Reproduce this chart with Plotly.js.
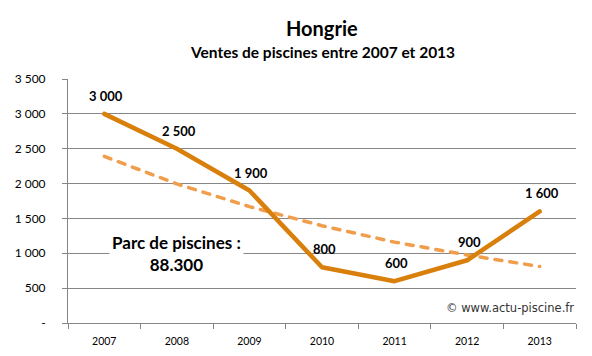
<!DOCTYPE html>
<html><head><meta charset="utf-8">
<script src="https://cdn.plot.ly/plotly-3.0.1.min.js"></script>
<style>html,body{margin:0;padding:0;background:#fff}
.scatterlayer path.js-line{stroke-linecap:round;stroke-linejoin:round}</style>
</head><body>
<div id="chart" style="width:592px;height:356px"></div>
<script>
const years = ['2007','2008','2009','2010','2011','2012','2013'];
const ventes = [3000, 2500, 1900, 800, 600, 900, 1600];
const ventesLabels = ['3 000','2 500','1 900','800','600','900','1 600'];
const tendance = [2390, 1995, 1670, 1395, 1160, 975, 810];
const yTickVals = [0, 500, 1000, 1500, 2000, 2500, 3000, 3500];
const yTickText = ['-', '500', '1 000', '1 500', '2 000', '2 500', '3 000', '3 500'];

const F = 'Lato, "Liberation Sans", sans-serif';
const data = [
  {x: years, y: tendance, type: 'scatter', mode: 'lines',
   line: {color: '#F19E4C', width: 3.5, dash: '7px,8px'}, hoverinfo: 'skip'},
  {x: years, y: ventes, type: 'scatter', mode: 'lines',
   line: {color: '#D87F0C', width: 4.5}}
];
const labelAnns = years.map((yr, i) => ({
  x: i, y: ventes[i], xref: 'x', yref: 'y', text: '<b>' + ventesLabels[i] + '</b>',
  showarrow: false, xanchor: 'center', yanchor: 'middle', xshift: 2, yshift: 18,
  font: {family: F, size: 13, color: '#000'}
}));
const layout = {
  width: 592, height: 356,
  margin: {l: 68, r: 16, t: 79, b: 33},
  paper_bgcolor: '#fff', plot_bgcolor: '#fff',
  showlegend: false,
  font: {family: F, color: '#000'},
  xaxis: {type: 'category', categoryarray: years, range: [-0.5, 6.5], tickson: 'boundaries', ticks: 'outside', ticklen: 5, tickcolor: '#868686',
          showline: true, linecolor: '#868686', linewidth: 1, showgrid: false, zeroline: false,
          tickfont: {family: F, size: 10.5, color: '#000'}, ticklabelstandoff: 8},
  yaxis: {range: [0, 3500], tickvals: yTickVals, ticktext: yTickText, ticks: 'outside', ticklen: 5,
          tickcolor: '#868686', showline: true, linecolor: '#868686', linewidth: 1,
          showgrid: true, gridcolor: '#868686', gridwidth: 1, zeroline: false,
          tickfont: {family: F, size: 12, color: '#000'}, ticklabelstandoff: 14},
  annotations: labelAnns.concat([
    {x: 0.5, y: 1.209, xref: 'paper', yref: 'paper', text: '<b>Hongrie</b>', showarrow: false,
     xanchor: 'center', yanchor: 'middle', font: {family: F, size: 20, color: '#000'}},
    {x: 0.5, y: 1.111, xref: 'paper', yref: 'paper', text: '<b>Ventes de piscines entre 2007 et 2013</b>', showarrow: false,
     xanchor: 'center', yanchor: 'middle', font: {family: F, size: 15.5, color: '#000'}},
    {x: 1, y: 990, xref: 'x', yref: 'y', text: '<b>Parc de piscines :</b><br><b>88.300</b>',
     showarrow: false, bgcolor: '#fff', borderpad: 2,
     font: {family: F, size: 17, color: '#000'}, xanchor: 'center', yanchor: 'middle'},
    {x: 1, y: 0.062, xref: 'paper', yref: 'paper', text: '© www.actu-piscine.fr', showarrow: false,
     xanchor: 'right', yanchor: 'middle', font: {family: '"DejaVu Sans", sans-serif', size: 11.5, color: '#333'}}
  ])
};
Plotly.newPlot('chart', data, layout, {staticPlot: true, displayModeBar: false});
</script>
</body></html>
